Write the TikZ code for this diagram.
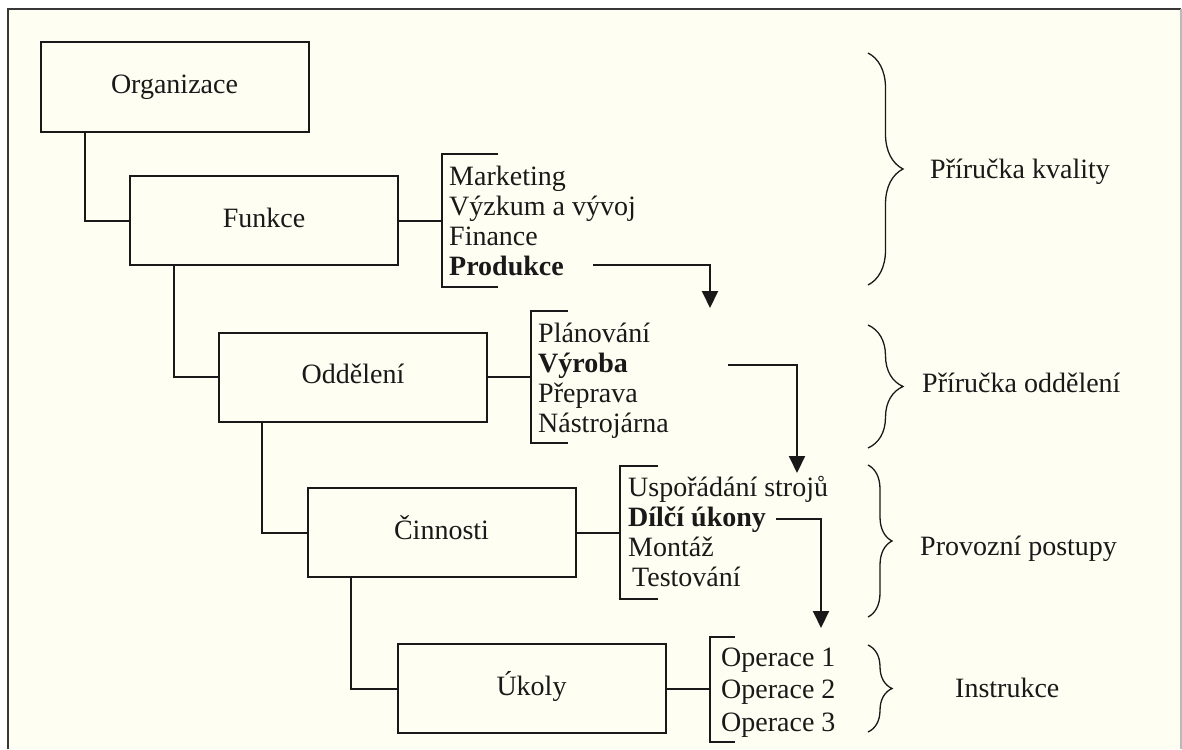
\documentclass[tikz,border=0pt]{standalone}
\usepackage{fontspec}
\setmainfont{Liberation Serif}
\usetikzlibrary{calc,arrows.meta,decorations.pathreplacing}
\definecolor{paper}{RGB}{255,254,242}
\definecolor{frameline}{RGB}{55,55,55}
\definecolor{frameedge}{RGB}{185,185,185}
\definecolor{ink}{RGB}{25,25,25}
\begin{document}
\begin{tikzpicture}[x=1pt,y=-1pt,
  txt/.style={font=\fontsize{28}{30}\selectfont, text=ink},
  level/.style={txt, draw=ink, line width=2pt, minimum width=268pt,
    minimum height=89pt, inner sep=0pt, text height=19pt, text depth=6pt},
  item/.style={txt, anchor=base west, inner sep=0pt},
  link/.style={draw=ink, line width=2pt},
  arr/.style={draw=ink, line width=2pt, -{Triangle[length=17pt,width=16pt]}},
  bigbrace/.style={draw=ink, line width=1.3pt, decorate,
    decoration={brace, amplitude=35pt}},
  smallbrace/.style={draw=ink, line width=1.3pt, decorate,
    decoration={brace, amplitude=24pt}},
  doc/.style={txt, anchor=base west, inner sep=0pt}
]
\useasboundingbox (0,0) rectangle (1182,749);

% page frame
\fill[white] (0,0) rectangle (1182,749);
\fill[paper] (8,9) rectangle (1181,749);
\draw[frameline, line width=2pt] (8,749) -- (8,9) -- (1181,9);
\draw[frameedge, line width=1.5pt] (1181,9) -- (1181,749);

% hierarchy levels
\node[level] (org) at (174.5,87)  {Organizace};
\node[level] (fun) at (264,220.5) {Funkce};
\node[level] (odd) at (353,377)   {Oddělení};
\node[level] (cin) at (441.5,532.5) {Činnosti};
\node[level] (uko) at (531.5,688.5) {Úkoly};

\draw[link] ($(org.south west)+(45,0)$) |- (fun.west);
\draw[link] ($(fun.south west)+(45,0)$) |- (odd.west);
\draw[link] ($(odd.south west)+(44,0)$) |- (cin.west);
\draw[link] ($(cin.south west)+(44,0)$) |- (uko.west);

% brackets holding the item lists
\coordinate (b1) at (442,220.5);
\coordinate (b2) at (531,377);
\coordinate (b3) at (620,532.5);
\coordinate (b4) at (710,688.5);
\draw[link] (498,154) -- (442,154) -- (442,287) -- (498,287);
\draw[link] (568,311) -- (531,311) -- (531,443) -- (568,443);
\draw[link] (658,466) -- (620,466) -- (620,599) -- (658,599);
\draw[link] (735,637) -- (710,637) -- (710,742) -- (735,742);
\draw[link] (fun.east) -- (b1);
\draw[link] (odd.east) -- (b2);
\draw[link] (cin.east) -- (b3);
\draw[link] (uko.east) -- (b4);

% item lists
\node[item] (mkt) at (449,185) {Marketing};
\node[item] (vyz) at (449,215) {Výzkum a vývoj};
\node[item] (fin) at (449,245) {Finance};
\node[item] (prod) at (449,275) {\bfseries Produkce};

\node[item] (plan) at (538,342) {Plánování};
\node[item] (vyr) at (538,372) {\bfseries Výroba};
\node[item] (pre) at (538,402) {Přeprava};
\node[item] (nas) at (538,432) {Nástrojárna};

\node[item] (usp) at (628,496) {Uspořádání strojů};
\node[item] (dil) at (628,526) {\bfseries Dílčí úkony};
\node[item] (mon) at (628,556) {Montáž};
\node[item] (tes) at (632,586) {Testování};

\node[item] (op1) at (721,666) {Operace 1};
\node[item] (op2) at (721,698) {Operace 2};
\node[item] (op3) at (721,731) {Operace 3};

% arrows passing the highlighted item down a level
\coordinate (t1) at (710,308);
\coordinate (t2) at (797,473);
\coordinate (t3) at (821,628);
\draw[arr] ($(prod.east)+(29,0)$) -| (t1);
\draw[arr] ($(vyr.east)+(100,0)$) -| (t2);
\draw[arr] ($(dil.east)+(10,0)$) -| (t3);

% documentation levels
\draw[bigbrace] (868,53) -- (868,285);
\draw[bigbrace] (868,325) -- (868,448);
\draw[smallbrace] (868,465) -- (868,617);
\draw[smallbrace] (868,645) -- (868,732);

\node[doc] (pk) at (930,178) {Příručka kvality};
\node[doc] (po) at (922,392) {Příručka oddělení};
\node[doc] (pp) at (920,555) {Provozní postupy};
\node[doc] (ins) at (955,697) {Instrukce};
\end{tikzpicture}
\end{document}
